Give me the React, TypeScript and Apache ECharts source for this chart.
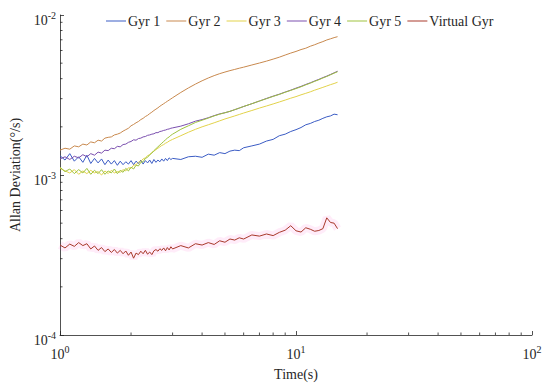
import React, { useEffect, useRef } from "react";
import * as echarts from "echarts";

// Averaging time tau (s)
const tau = [
  1.0, 1.05, 1.1, 1.15, 1.2, 1.25, 1.3, 1.35, 1.4, 1.45,
  1.5, 1.55, 1.6, 1.65, 1.7, 1.75, 1.8, 1.85, 1.9, 1.95,
  2.0, 2.05, 2.1, 2.15, 2.2, 2.25, 2.3, 2.35, 2.4, 2.45,
  2.5, 2.55, 2.6, 2.65, 2.7, 2.75, 2.8, 2.85, 2.9, 2.95,
  3.0, 3.25, 3.5, 3.75, 4.0, 4.25, 4.5, 4.75, 5.0, 5.25,
  5.5, 5.75, 6.0, 6.5, 7.0, 7.5, 8.0, 8.5, 9.0, 9.5,
  10, 10.5, 11, 11.5, 12, 12.5, 13, 13.5, 14, 14.5, 15,
];

// Allan deviation values in units of 1e-3 deg/s
const UNIT = 1e-3;

const gyr1 = [
  1.32, 1.24, 1.36, 1.22, 1.3, 1.2, 1.33, 1.18, 1.27, 1.19,
  1.26, 1.16, 1.24, 1.17, 1.23, 1.15, 1.22, 1.16, 1.21, 1.17,
  1.23, 1.16, 1.22, 1.18, 1.24, 1.17, 1.23, 1.19, 1.24, 1.18,
  1.25, 1.2, 1.24, 1.21, 1.26, 1.22, 1.27, 1.23, 1.28, 1.25,
  1.27, 1.25, 1.3, 1.31, 1.29, 1.35, 1.33, 1.38, 1.36, 1.41,
  1.43, 1.42, 1.48, 1.52, 1.56, 1.63, 1.67, 1.76, 1.8, 1.87,
  1.92, 1.98, 2.06, 2.1, 2.16, 2.2, 2.26, 2.31, 2.34, 2.4, 2.38,
];

const gyr2 = [
  1.43, 1.47, 1.45, 1.52, 1.5, 1.56, 1.54, 1.61, 1.59, 1.65,
  1.63, 1.7, 1.72, 1.73, 1.78, 1.8, 1.83, 1.88, 1.92, 1.96,
  2.03, 2.07, 2.12, 2.16, 2.22, 2.26, 2.32, 2.36, 2.42, 2.47,
  2.53, 2.58, 2.63, 2.69, 2.74, 2.79, 2.84, 2.89, 2.94, 2.99,
  3.04, 3.28, 3.5, 3.7, 3.88, 4.04, 4.18, 4.3, 4.4, 4.49,
  4.57, 4.65, 4.72, 4.87, 5.01, 5.15, 5.3, 5.45, 5.62, 5.78,
  5.92, 6.08, 6.2, 6.38, 6.52, 6.68, 6.82, 6.98, 7.1, 7.22, 7.32,
];

const gyr3 = [
  1.1, 1.06, 1.03, 1.08, 1.01, 1.06, 1.02, 1.07, 1.03, 1.05,
  1.0, 1.06, 1.02, 1.07, 1.03, 1.05, 1.04, 1.08, 1.06, 1.11,
  1.1, 1.15, 1.16, 1.2, 1.22, 1.26, 1.28, 1.32, 1.34, 1.38,
  1.41, 1.44, 1.47, 1.5, 1.53, 1.55, 1.58, 1.6, 1.63, 1.65,
  1.67, 1.76, 1.85, 1.93, 2.0, 2.06, 2.12, 2.18, 2.24, 2.29,
  2.34, 2.39, 2.44, 2.53, 2.62, 2.7, 2.78, 2.86, 2.94, 3.02,
  3.09, 3.17, 3.24, 3.31, 3.39, 3.46, 3.53, 3.6, 3.67, 3.73, 3.8,
];

const gyr4 = [
  1.26, 1.3, 1.25, 1.31, 1.28, 1.34, 1.3, 1.36, 1.33, 1.39,
  1.37, 1.43, 1.42, 1.47, 1.46, 1.51, 1.5, 1.55, 1.56, 1.6,
  1.62, 1.66, 1.65, 1.69, 1.7, 1.73, 1.74, 1.77, 1.78, 1.8,
  1.81, 1.84, 1.84, 1.87, 1.88, 1.9, 1.91, 1.93, 1.94, 1.96,
  1.97, 2.02, 2.09, 2.17, 2.22, 2.28, 2.35, 2.41, 2.45, 2.5,
  2.56, 2.62, 2.68, 2.79, 2.9, 3.01, 3.11, 3.2, 3.3, 3.39,
  3.49, 3.58, 3.68, 3.77, 3.87, 3.96, 4.06, 4.15, 4.25, 4.35, 4.45,
];

const gyr5 = [
  1.12, 1.05, 1.09, 1.02, 1.08, 1.03, 1.1, 1.01, 1.07, 1.02,
  1.08, 1.01, 1.06, 1.03, 1.09, 1.02, 1.07, 1.04, 1.1, 1.06,
  1.12, 1.09, 1.15, 1.14, 1.2, 1.21, 1.27, 1.29, 1.34, 1.37,
  1.42, 1.46, 1.5, 1.54, 1.58, 1.62, 1.66, 1.7, 1.73, 1.77,
  1.8, 1.93, 2.03, 2.13, 2.2, 2.27, 2.34, 2.4, 2.45, 2.5,
  2.56, 2.62, 2.68, 2.79, 2.9, 3.0, 3.1, 3.19, 3.29, 3.38,
  3.47, 3.56, 3.66, 3.75, 3.85, 3.94, 4.04, 4.13, 4.23, 4.33, 4.42,
];

const virtualGyr = [
  0.365, 0.35, 0.37, 0.358, 0.378, 0.362, 0.372, 0.345, 0.36, 0.338,
  0.352, 0.332, 0.345, 0.328, 0.342, 0.325, 0.338, 0.322, 0.335, 0.315,
  0.33, 0.302, 0.325, 0.318, 0.334, 0.322, 0.338, 0.32, 0.33, 0.318,
  0.336, 0.342, 0.334, 0.346, 0.338, 0.35, 0.336, 0.352, 0.34, 0.356,
  0.345, 0.362, 0.35, 0.372, 0.365, 0.378, 0.368, 0.388, 0.38, 0.398,
  0.392, 0.405, 0.398, 0.422, 0.415, 0.428, 0.418, 0.438, 0.452, 0.482,
  0.448, 0.44, 0.468, 0.458, 0.445, 0.45, 0.462, 0.54, 0.505, 0.5, 0.462,
];

const seriesNames = ["Gyr 1", "Gyr 2", "Gyr 3", "Gyr 4", "Gyr 5", "Virtual Gyr"];
const seriesValues = [gyr1, gyr2, gyr3, gyr4, gyr5, virtualGyr];
const seriesColors = ["#3b5cc4", "#c8894e", "#e2d24a", "#7a4fae", "#9ec23e", "#a8392a"];

const FONT = "'Liberation Serif', 'DejaVu Serif', serif";
const AXIS_COLOR = "#262626";

const toPairs = (vals: number[]) => tau.map((t, i) => [t, vals[i] * UNIT]);

const powLabel = (v: number) => {
  const e = Math.round(Math.log10(v));
  return `{b|10}{s|${e}}`;
};

const richLabel = {
  b: { fontSize: 14, fontFamily: FONT, color: AXIS_COLOR, verticalAlign: "bottom" },
  s: { fontSize: 10, fontFamily: FONT, color: AXIS_COLOR, verticalAlign: "bottom", padding: [0, 0, 7, 0] },
};

export default function App() {
  const ref = useRef<HTMLDivElement>(null);

  useEffect(() => {
    if (!ref.current) return;
    document.body.style.margin = "0";
    const chart = echarts.init(ref.current, undefined, { renderer: "svg" });

    const series: any[] = [
      {
        name: "halo",
        type: "line",
        data: toPairs(virtualGyr),
        symbol: "none",
        silent: true,
        lineStyle: { width: 8, color: "rgba(255,110,210,0.13)" },
        z: 1,
      },
      ...seriesNames.map((name, k) => ({
        name,
        type: "line",
        data: toPairs(seriesValues[k]),
        symbol: "none",
        color: seriesColors[k],
        lineStyle: { width: 1, color: seriesColors[k] },
        z: 2 + k,
      })),
    ];

    chart.setOption({
      animation: false,
      backgroundColor: "#ffffff",
      textStyle: { fontFamily: FONT },
      grid: { left: 52, right: 18, top: 15, bottom: 47, containLabel: false },
      legend: {
        data: seriesNames,
        left: 101,
        top: 9,
        itemWidth: 20,
        itemHeight: 4,
        itemGap: 6,
        icon: "path://M0,0 L20,0 L20,1 L0,1 Z",
        textStyle: { fontFamily: FONT, fontSize: 14, color: AXIS_COLOR, padding: [0, 0, 0, -3] },
      },
      xAxis: {
        type: "log",
        logBase: 10,
        min: 1,
        max: 100,
        name: "Time(s)",
        nameLocation: "middle",
        nameGap: 32,
        nameTextStyle: { fontFamily: FONT, fontSize: 14, color: AXIS_COLOR },
        axisLine: { show: true, lineStyle: { color: AXIS_COLOR, width: 0.8 } },
        axisTick: { show: true, inside: true, length: 4, lineStyle: { color: AXIS_COLOR, width: 0.8 } },
        axisLabel: { formatter: powLabel, rich: richLabel, margin: 9 },
        splitLine: { show: false },
      },
      yAxis: {
        type: "log",
        logBase: 10,
        min: 1e-4,
        max: 1e-2,
        name: "Allan Deviation(°/s)",
        nameLocation: "middle",
        nameGap: 38,
        nameTextStyle: { fontFamily: FONT, fontSize: 14, color: AXIS_COLOR },
        axisLine: { show: true, lineStyle: { color: AXIS_COLOR, width: 0.8 } },
        axisTick: { show: true, inside: true, length: 4, lineStyle: { color: AXIS_COLOR, width: 0.8 } },
        axisLabel: { formatter: powLabel, rich: richLabel, margin: 4, padding: [8, 0, 0, 0] },
        splitLine: { show: false },
      },
      series,
    });

    // minor ticks (2..9 x 10^k) placed through the axes' own scales
    const minor: any[] = [];
    const x0 = chart.convertToPixel({ xAxisIndex: 0 }, 1) as number;
    const yB = chart.convertToPixel({ yAxisIndex: 0 }, 1e-4) as number;
    for (const dec of [1, 10]) {
      for (let m = 2; m <= 9; m++) {
        const px = chart.convertToPixel({ xAxisIndex: 0 }, m * dec) as number;
        minor.push({
          type: "line",
          shape: { x1: px, y1: yB, x2: px, y2: yB - 2.5 },
          style: { stroke: AXIS_COLOR, lineWidth: 0.8 },
          silent: true,
        });
      }
    }
    for (const dec of [1e-4, 1e-3]) {
      for (let m = 2; m <= 9; m++) {
        const py = chart.convertToPixel({ yAxisIndex: 0 }, m * dec) as number;
        minor.push({
          type: "line",
          shape: { x1: x0, y1: py, x2: x0 + 2.5, y2: py },
          style: { stroke: AXIS_COLOR, lineWidth: 0.8 },
          silent: true,
        });
      }
    }
    chart.setOption({ graphic: minor });

    return () => chart.dispose();
  }, []);

  return <div ref={ref} style={{ width: 550, height: 386 }} />;
}
